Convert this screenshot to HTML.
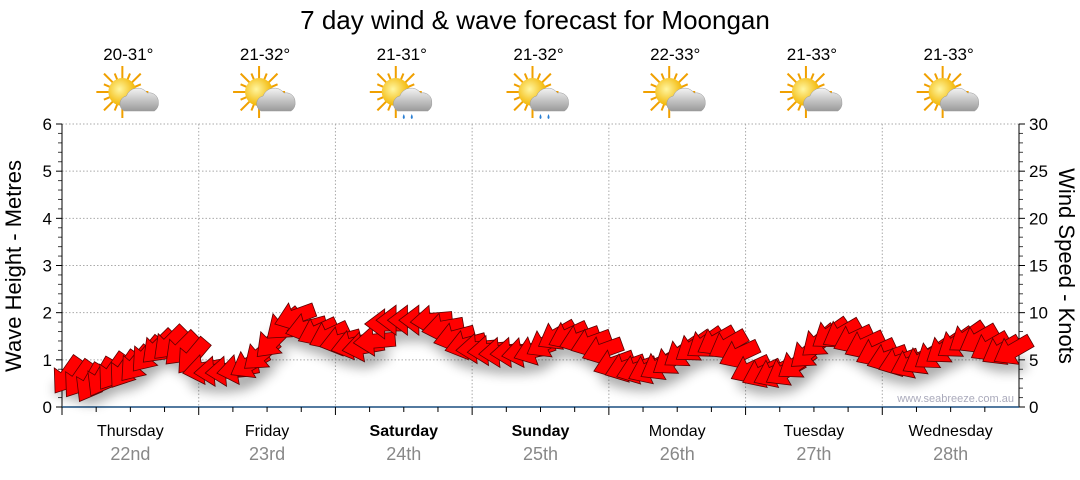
<!DOCTYPE html>
<html><head><meta charset="utf-8"><style>
html,body{margin:0;padding:0;background:#fff;}
svg text{font-family:"Liberation Sans",sans-serif;}
</style></head><body>
<svg id="chart" width="1080" height="475" xmlns="http://www.w3.org/2000/svg">
<defs>
<filter id="blur" x="-20%" y="-50%" width="140%" height="200%"><feGaussianBlur stdDeviation="6"/></filter>
<radialGradient id="sunG" cx="40%" cy="40%" r="60%"><stop offset="0" stop-color="#fff6a0"/><stop offset="1" stop-color="#f2b400"/></radialGradient>
<linearGradient id="cloudG" x1="0" y1="0" x2="0" y2="1"><stop offset="0" stop-color="#f4f4f4"/><stop offset="1" stop-color="#9a9a9a"/></linearGradient>
</defs>
<text x="535" y="29" text-anchor="middle" font-size="26" fill="#000">7 day wind &amp; wave forecast for Moongan</text>
<g id="grid"></g><g id="axes"></g><g id="icons"></g><g id="shadow" filter="url(#blur)" opacity="0.35"></g><g id="arrows"></g>
<text transform="translate(21,266) rotate(-90)" text-anchor="middle" font-size="22" fill="#000">Wave Height - Metres</text>
<text transform="translate(1059,266) rotate(90)" text-anchor="middle" font-size="22" fill="#000">Wind Speed - Knots</text>
<text x="1014" y="402" text-anchor="end" font-size="11" fill="#aab">www.seabreeze.com.au</text>
</svg>
<script>
const days=["Thursday","Friday","Saturday","Sunday","Monday","Tuesday","Wednesday"];
const dates=["22nd","23rd","24th","25th","26th","27th","28th"];
const boldDays=[false,false,true,true,false,false,false];
const temps=["20-31°","21-32°","21-31°","21-32°","22-33°","21-33°","21-33°"];
const rainy=[false,false,true,true,false,false,false];
const waveTicks=[0,1,2,3,4,5,6];
const windTicks=[0,5,10,15,20,25,30];
const windSpeed=[3.4,3.0,2.6,3.2,3.8,4.0,4.6,5.6,6.4,6.8,6.2,5.4,
4.0,3.8,3.8,4.0,4.6,5.6,7.0,8.8,9.6,8.4,8.0,7.6,
7.0,6.6,6.4,7.0,8.8,9.2,9.2,9.2,9.2,8.4,7.4,6.6,
6.2,6.0,5.8,5.8,5.8,6.0,6.8,7.6,7.6,7.2,6.8,6.0,
4.6,4.2,4.0,4.0,4.4,5.0,5.8,6.4,6.8,7.0,6.6,5.6,
4.0,3.6,3.6,3.8,4.6,5.8,7.0,7.8,7.8,7.2,6.6,5.8,
5.2,4.8,4.6,5.0,5.6,6.2,6.8,7.4,7.2,6.4,6.0,6.0];
const windDir=[55,55,60,60,55,55,50,50,45,45,45,50,
10,5,5,10,30,40,45,40,20,15,25,25,
15,15,10,5,0,0,0,0,5,10,15,15,
5,5,5,5,10,20,30,30,25,20,20,20,
20,20,20,25,30,35,35,35,35,30,30,25,
25,25,25,30,35,40,40,35,30,25,25,25,
20,20,25,30,35,35,35,35,30,30,30,30];
const NS="http://www.w3.org/2000/svg";
const X0=62,X1=1019,Y0=407,Y1=124;
const dayW=(X1-X0)/7;
function xAt(i){return X0+(i+0.5)*dayW/12;}
function yWave(v){return Y0-(v/6)*(Y0-Y1);}
function yWind(v){return Y0-(v/30)*(Y0-Y1);}
function mk(tag,attrs,parent){const e=document.createElementNS(NS,tag);for(const k in attrs)e.setAttribute(k,attrs[k]);parent.appendChild(e);return e;}
const grid=document.getElementById('grid'),axes=document.getElementById('axes'),icons=document.getElementById('icons'),arrows=document.getElementById('arrows'),shadow=document.getElementById('shadow');
waveTicks.forEach((t,i)=>{
 const y=yWave(t);
 if(t>0){const g=mk('line',{x1:X0,x2:X1,y1:y,y2:y,stroke:'#aaa','stroke-dasharray':'1.5,2'},grid);
 }
 const l=mk('text',{x:X0-10,y:y+6,'text-anchor':'end','font-size':17,fill:'#000'},axes);l.textContent=t;
 
 mk('line',{x1:X0-6,x2:X0,y1:y,y2:y,stroke:'#000'},axes);
 if(i<6)for(let m=1;m<5;m++){const ym=yWave(t+m*0.2);mk('line',{x1:X0-4,x2:X0,y1:ym,y2:ym,stroke:'#444'},axes);}
});
windTicks.forEach((t,i)=>{
 const y=yWind(t);
 const l=mk('text',{x:X1+10,y:y+6,'text-anchor':'start','font-size':17,fill:'#000'},axes);l.textContent=t;
 
 mk('line',{x1:X1,x2:X1+6,y1:y,y2:y,stroke:'#000'},axes);
 if(i<6)for(let m=1;m<5;m++){const ym=yWind(t+m);mk('line',{x1:X1,x2:X1+4,y1:ym,y2:ym,stroke:'#444'},axes);}
});
mk('line',{x1:X0,x2:X0,y1:Y1,y2:Y0,stroke:'#000'},axes);
mk('line',{x1:X1,x2:X1,y1:Y1,y2:Y0,stroke:'#000'},axes);
mk('line',{x1:X0,x2:X1,y1:Y0,y2:Y0,stroke:'#1a4f80','stroke-width':1.5},axes);
days.forEach((d,i)=>{
 const xb=X0+i*dayW,xc=xb+dayW/2;
 if(i>0){const g=mk('line',{x1:xb,x2:xb,y1:Y1,y2:Y0,stroke:'#aaa','stroke-dasharray':'1.5,2'},grid);
 }
 mk('line',{x1:xb,x2:xb,y1:Y0,y2:Y0+8,stroke:'#000'},axes);
 for(let q=1;q<4;q++){const xq=xb+q*dayW/4;mk('line',{x1:xq,x2:xq,y1:Y0,y2:Y0+5,stroke:'#000'},axes);}
 const t=mk('text',{x:xc,y:436,'text-anchor':'middle','font-size':16,fill:'#000','font-weight':boldDays[i]?'bold':'normal'},axes);t.textContent=d;
 
 const dt=mk('text',{x:xc,y:460,'text-anchor':'middle','font-size':18,fill:'#888'},axes);dt.textContent=dates[i];
 
 const tt=mk('text',{x:xc-2,y:60,'text-anchor':'middle','font-size':17,fill:'#000'},icons);tt.textContent=temps[i];
 
 const g=mk('g',{transform:`translate(${xc},96)`},icons);
 
 for(let r=0;r<16;r++){const a=r*Math.PI/8;mk('line',{x1:-8+Math.cos(a)*13,y1:-4+Math.sin(a)*13,x2:-8+Math.cos(a)*(r%2?20:26),y2:-4+Math.sin(a)*(r%2?20:26),stroke:'#f0a000','stroke-width':2},g);}
 mk('circle',{cx:-8,cy:-4,r:14,fill:'url(#sunG)'},g);
 mk('path',{d:'M-6,15 a8,8 0 0 1 2,-15 a12,12 0 0 1 21,-3 a9,9 0 0 1 11,9 a9,9 0 0 1 -4,9 z',fill:'url(#cloudG)',stroke:'#999','stroke-width':0.5},g);
 if(rainy[i]){mk('path',{d:'M0,18 q-2,4 0,5 q2,-1 0,-5z M8,18 q-2,4 0,5 q2,-1 0,-5z',fill:'#2a7fd4'},g);}
});
windSpeed.forEach((v,i)=>{
 const x=xAt(i),y=yWind(v),a=-windDir[i];
 const s=mk('ellipse',{cx:x,cy:y+14,rx:14,ry:7,fill:'#000'},shadow);
 
 const p=mk('path',{d:'M-22,0 L-2,-15 L-2,-7 L20,-7 L20,7 L-2,7 L-2,15 Z',fill:'#ff0000',stroke:'#5a0000','stroke-width':0.8,'stroke-linejoin':'miter',transform:`translate(${x},${y}) rotate(${a})`},arrows);
 
});
</script>
</body></html>
